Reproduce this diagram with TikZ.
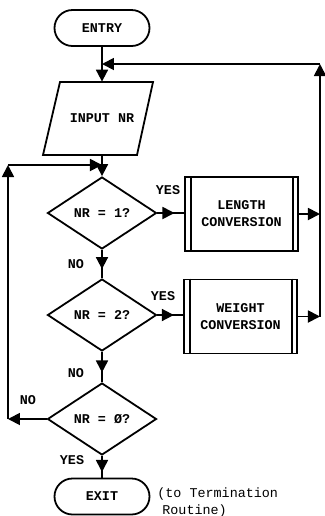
\documentclass[tikz,border=0pt]{standalone}
\usepackage{fontspec}
\setmonofont{Liberation Mono}
\usetikzlibrary{arrows.meta,shapes.geometric,shapes.misc,decorations.markings}
\begin{document}
\begin{tikzpicture}[x=0.5pt,y=-0.5pt,
 every node/.style={font=\ttfamily\bfseries\fontsize{6.7}{8.5}\selectfont},
 ln/.style={line width=0.9pt},
 tip/.style={-{Triangle[length=6pt,width=6pt]}},
 term/.style={rounded rectangle, draw, ln, minimum width=47.5pt, minimum height=18pt, inner sep=0pt},
 dec/.style={diamond, draw, ln, minimum width=54.5pt, minimum height=36pt, inner sep=0pt},
 proc/.style={rectangle, draw, ln, minimum width=56.5pt, minimum height=37pt, align=center, inner sep=0pt},
 lbl/.style={inner sep=0pt},
 midtip/.style={postaction={decorate},decoration={markings,mark=at position #1 with {\arrow{Triangle[length=6pt,width=6pt]}}}}
]
\useasboundingbox (0,0) rectangle (325,516);

\node[term] (entry) at (102,28) {ENTRY};
\node[inner sep=0pt, minimum height=36.5pt] (inp) at (102,118.5) {INPUT NR};
\draw[ln] ([shift={(-42,-36.5)}]inp.center) -- ([shift={(51,-36.5)}]inp.center)
  -- ([shift={(35,36.5)}]inp.center) -- ([shift={(-59,36.5)}]inp.center) -- cycle;

\node[dec] (d1) at (102,213) {NR = 1?};
\node[dec] (d2) at (102,315) {NR = 2?};
\node[dec] (d3) at (102,419) {NR = \O?};
\node[term] (exit) at (102,496.5) {EXIT};

\node[proc] (len) at (241.5,214) {LENGTH\\CONVERSION};
\node[proc] (wei) at (240.5,316.5) {WEIGHT\\CONVERSION};
\foreach \b in {len,wei}{
  \draw[ln] ([xshift=3.4pt]\b.north west) -- ([xshift=3.4pt]\b.south west);
  \draw[ln] ([xshift=-3pt]\b.north east) -- ([xshift=-3pt]\b.south east);
}

\coordinate (rtop) at (320,64);
\coordinate (ltop) at (8,165);

% main trunk
\draw[ln,tip] (entry.south) -- (inp.north);
\draw[ln,tip] (inp.south) -- (d1.north);
\draw[ln,midtip=0.68] (d1.south) -- (d2.north);
\draw[ln,midtip=0.68] (d2.south) -- (d3.north);
\draw[ln,midtip=0.74] (d3.south) -- (exit.north);

% yes branches
\draw[ln,midtip=0.64] (d1.east) -- (d1.east -| len.west);
\draw[ln,midtip=0.64] (d2.east) -- (d2.east -| wei.west);
\draw[ln,tip] (len.east) -- (len.east -| rtop);
\draw[ln,tip] (wei.east) -- (wei.east -| rtop);
\draw[ln,tip] (wei.east -| rtop) -- (rtop);
\draw[ln,tip] (rtop) -- (rtop -| inp.north);

% no loop
\draw[ln,tip] (d3.west) -- (d3.west -| ltop);
\draw[ln,tip] (d3.west -| ltop) -- (ltop);
\draw[ln,tip] (ltop) -- (ltop -| d1.north);

% labels
\node[lbl] (y1) at (168,190) {YES};
\node[lbl] (y2) at (163,296) {YES};
\node[lbl] (n1) at (76,264) {NO};
\node[lbl] (n2) at (76,373) {NO};
\node[lbl] (n3) at (28,400) {NO};
\node[lbl] (y3) at (72,460) {YES};
\node[lbl, font=\ttfamily\fontsize{6.7}{8.5}\selectfont, align=left, anchor=west] (note) at (157,502.5)
  {(to Termination\\\hspace*{2.5pt}Routine)};
\end{tikzpicture}
\end{document}
